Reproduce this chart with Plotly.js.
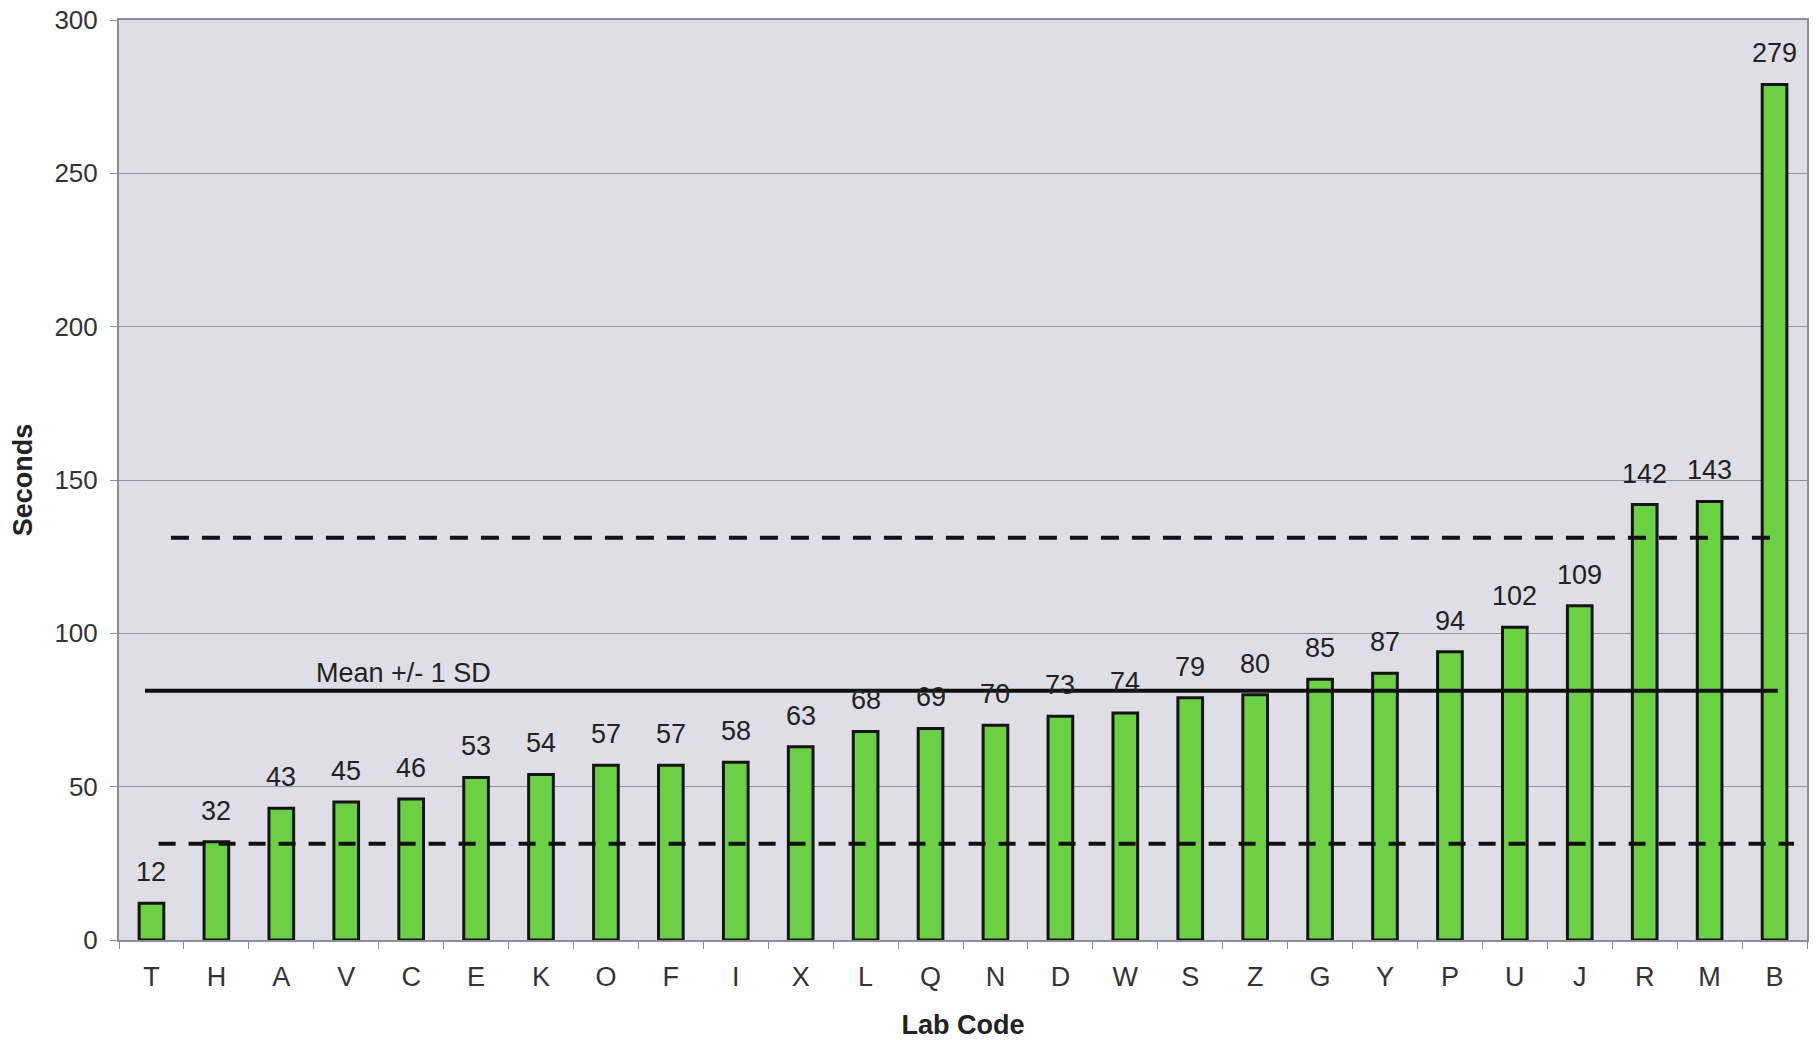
<!DOCTYPE html>
<html>
<head>
<meta charset="utf-8">
<script src="https://cdn.plot.ly/plotly-3.0.1.min.js"></script>
<style>html,body{margin:0;padding:0;background:#fff;}#chart{width:1816px;height:1040px;}</style>
</head>
<body>
<div id="chart"></div>
<script>
// ---- data ----
const labCodes = ["T","H","A","V","C","E","K","O","F","I","X","L","Q","N","D","W","S","Z","G","Y","P","U","J","R","M","B"];
const seconds  = [12,32,43,45,46,53,54,57,57,58,63,68,69,70,73,74,79,80,85,87,94,102,109,142,143,279];
const meanValue = 81.3;
const sdValue = 49.9;
const meanLabel = "Mean +/- 1 SD";
const xTitle = "Lab Code";
const yTitle = "Seconds";
const yTicks = [0,50,100,150,200,250,300];

const FONT = "Liberation Sans, Arial, sans-serif";

const bars = {
  type: "bar",
  x: labCodes,
  y: seconds,
  width: 0.38,
  marker: {color: "#6bd044", line: {color: "#141414", width: 3}},
  hoverinfo: "x+y"
};

const valueAnnotations = labCodes.map((c, i) => ({
  x: c, y: seconds[i], xref: "x", yref: "y",
  text: String(seconds[i]), showarrow: false,
  yanchor: "bottom", yshift: 14,
  font: {family: FONT, size: 27, color: "#222"}
}));

const shapes = [
  {type: "line", xref: "x", yref: "y", x0: -0.1, x1: 25.05, y0: meanValue, y1: meanValue,
   line: {color: "#111", width: 4}},
  {type: "line", xref: "x", yref: "y", x0: 0.3, x1: 25.13, y0: meanValue + sdValue, y1: meanValue + sdValue,
   line: {color: "#111", width: 4, dash: "18px,13px"}},
  {type: "line", xref: "x", yref: "y", x0: 0.11, x1: 25.3, y0: meanValue - sdValue, y1: meanValue - sdValue,
   line: {color: "#111", width: 4, dash: "17px,13px"}}
];

const layout = {
  width: 1816, height: 1040,
  margin: {l: 119, r: 9, t: 20, b: 100},
  paper_bgcolor: "#ffffff",
  plot_bgcolor: "#dfdde5",
  showlegend: false,
  font: {family: FONT, color: "#222"},
  xaxis: {
    type: "category",
    range: [-0.5, 25.5],
    showgrid: false,
    showline: true, linecolor: "#8a8e98", linewidth: 2, mirror: true,
    ticks: "outside", tickson: "boundaries", ticklen: 7, tickcolor: "#8a8e98", tickwidth: 1,
    ticklabelstandoff: 12,
    tickfont: {family: FONT, size: 27, color: "#333"},
    title: {text: xTitle, standoff: 24, font: {family: FONT, size: 27, color: "#222", weight: "bold"}},
    automargin: false,
    fixedrange: true
  },
  yaxis: {
    range: [0, 300],
    tickvals: yTicks,
    showgrid: true, gridcolor: "#8e909a", gridwidth: 1,
    zeroline: false,
    showline: true, linecolor: "#8a8e98", linewidth: 2, mirror: true,
    ticks: "outside", ticklen: 7, tickcolor: "#8a8e98",
    ticklabelstandoff: 7,
    tickfont: {family: FONT, size: 26, color: "#333"},
    title: {text: yTitle, standoff: 14, font: {family: FONT, size: 27, color: "#222", weight: "bold"}},
    automargin: false,
    fixedrange: true
  },
  shapes: shapes,
  annotations: valueAnnotations.concat([{
    x: 3.88, y: meanValue, xref: "x", yref: "y",
    text: meanLabel, showarrow: false, yanchor: "bottom", yshift: 1,
    font: {family: FONT, size: 27, color: "#222"}
  }])
};

Plotly.newPlot("chart", [bars], layout, {displayModeBar: false, staticPlot: true});
</script>
</body>
</html>
